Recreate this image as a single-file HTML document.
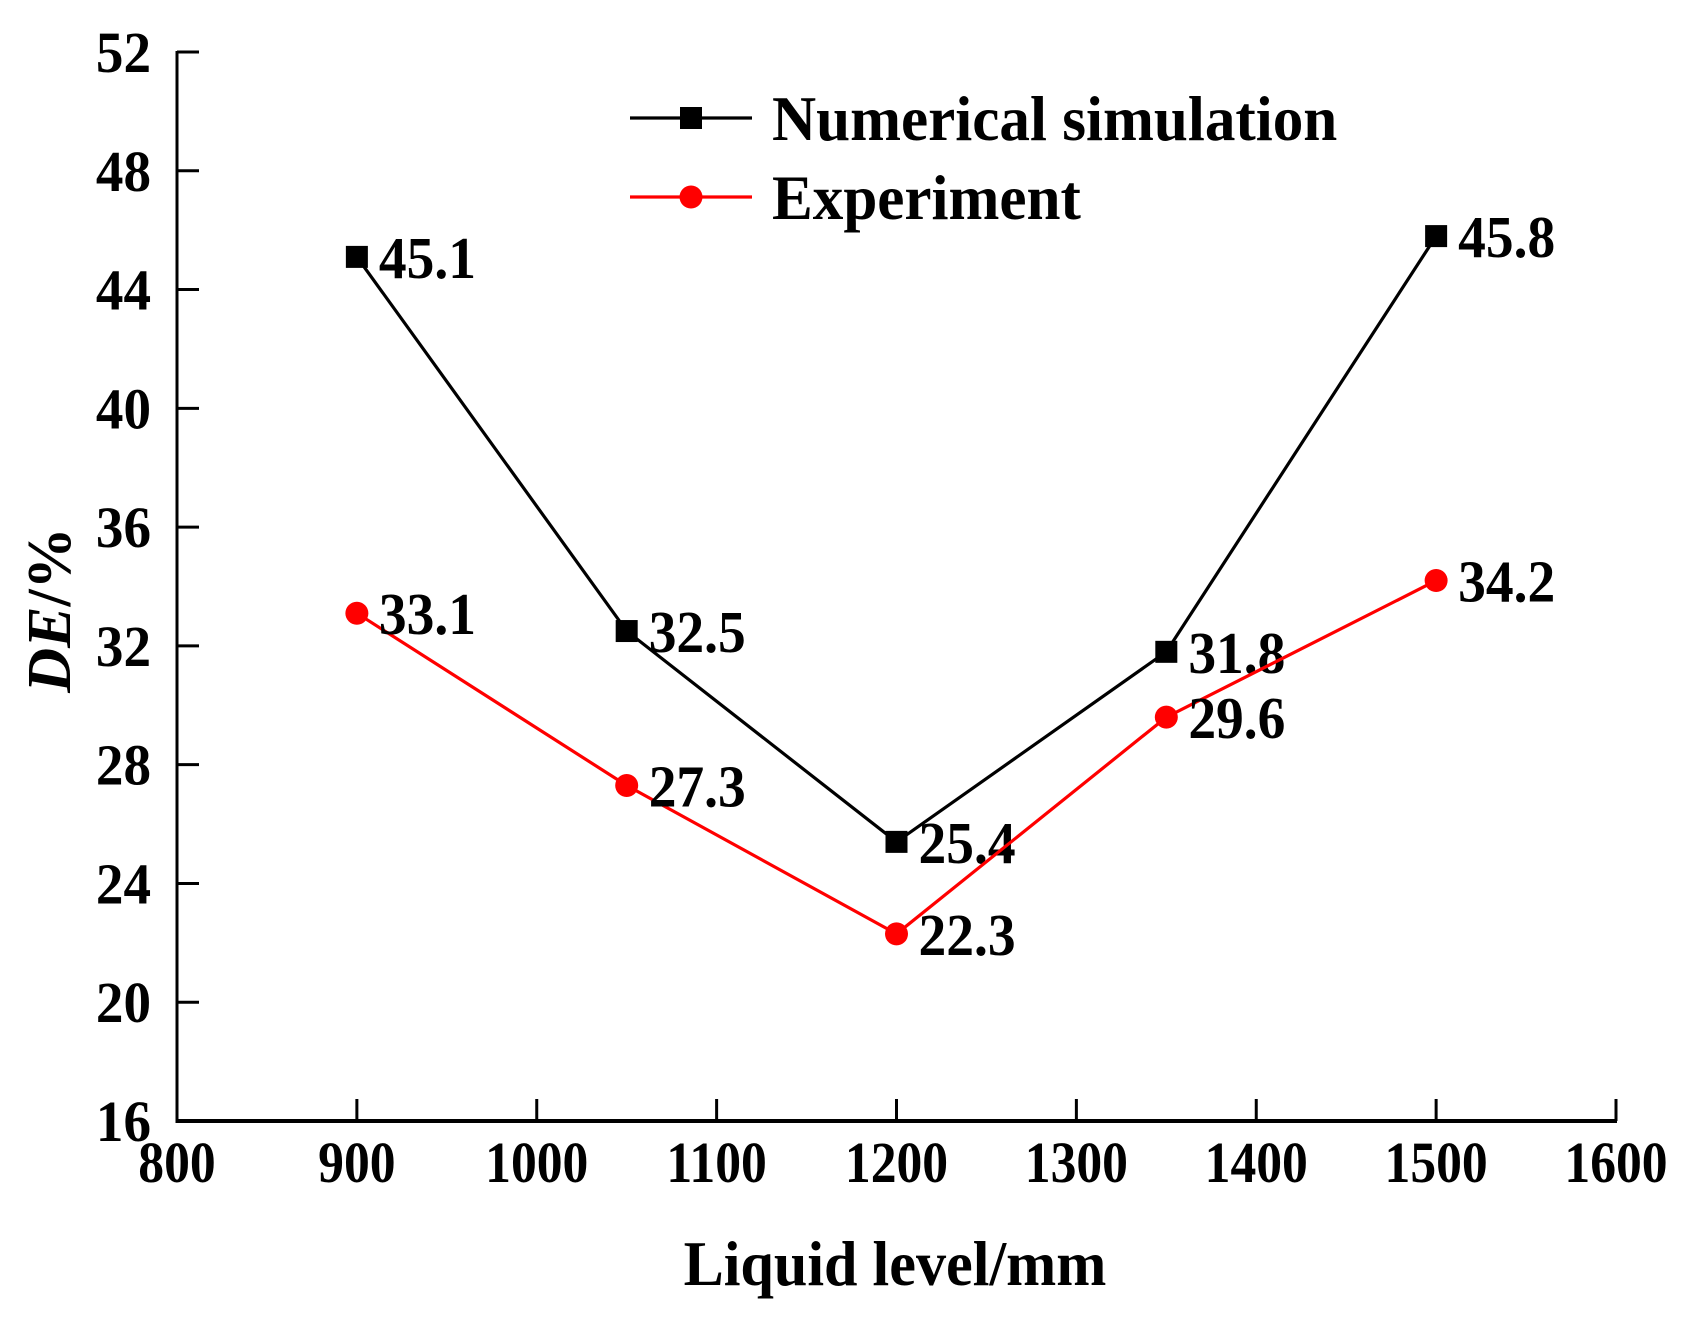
<!DOCTYPE html>
<html><head><meta charset="utf-8"><style>
html,body{margin:0;padding:0;background:#fff;}
svg{display:block;}
text{font-family:"Liberation Serif",serif;font-weight:bold;fill:#000;}
</style></head><body>
<svg id="chart" width="1684" height="1320" viewBox="0 0 1684 1320" xmlns="http://www.w3.org/2000/svg"></svg>
<script>
const categories = [900, 1050, 1200, 1350, 1500];
const simValues = [45.1, 32.5, 25.4, 31.8, 45.8];
const expValues = [33.1, 27.3, 22.3, 29.6, 34.2];
const xTicks = [800, 900, 1000, 1100, 1200, 1300, 1400, 1500, 1600];
const yTicks = [16, 20, 24, 28, 32, 36, 40, 44, 48, 52];

const NS = "http://www.w3.org/2000/svg";
const svg = document.getElementById('chart');
const X0 = 177, X1 = 1616, Y0 = 1121, Y1 = 52;
const xScale = v => X0 + (v - 800) / 800 * (X1 - X0);
const yScale = v => Y0 - (v - 16) / 36 * (Y0 - Y1);

function mk(tag, attrs, parent) {
  const e = document.createElementNS(NS, tag);
  for (const k in attrs) e.setAttribute(k, attrs[k]);
  (parent || svg).appendChild(e);
  return e;
}
function txt(s, attrs, parent, sq) {
  const t = mk('text', attrs, parent);
  t.textContent = s;
  const w = t.getComputedTextLength();
  t.setAttribute('textLength', (w * (sq || 0.92)).toFixed(1));
  t.setAttribute('lengthAdjust', 'spacingAndGlyphs');
  return t;
}

// axes
const ax = mk('line', {x1: X0, y1: Y1 - 1, x2: X0, y2: Y0 + 2, stroke: '#000', 'stroke-width': 3});


const bx = mk('line', {x1: X0 - 1, y1: Y0, x2: X1 + 1, y2: Y0, stroke: '#000', 'stroke-width': 4});



yTicks.forEach(v => {
  const y = yScale(v);
  const tk = mk('line', {x1: X0, y1: y, x2: X0 + 22, y2: y, stroke: '#000', 'stroke-width': 3});
  
  
  const t = txt(String(v), {x: 151, y: y + 20, 'font-size': 58, 'text-anchor': 'end'}, null, 0.95);
  
  
});
xTicks.forEach(v => {
  const x = xScale(v);
  const tk = mk('line', {x1: x, y1: Y0, x2: x, y2: Y0 - 22, stroke: '#000', 'stroke-width': 3});
  
  
  const t = txt(String(v), {x: x, y: 1182, 'font-size': 58, 'text-anchor': 'middle'}, null, 0.89);
  
  
});

// titles
const xt = txt('Liquid level/mm', {x: 895, y: 1285, 'font-size': 64, 'text-anchor': 'middle'}, null, 0.94);


const yt = mk('text', {x: 0, y: 0, 'font-size': 62, 'text-anchor': 'middle', transform: 'translate(70,610) rotate(-90)'});


yt.innerHTML = '<tspan font-style="italic">DE</tspan>/%';

// series
function series(vals, color, marker, name) {
  const g = mk('g', {});
  
  
  const pts = categories.map((c, i) => xScale(c).toFixed(1) + ',' + yScale(vals[i]).toFixed(1)).join(' ');
  const pl = mk('polyline', {points: pts, fill: 'none', stroke: color, 'stroke-width': 3.2}, g);
  
  
  categories.forEach((c, i) => {
    const x = xScale(c), y = yScale(vals[i]);
    let m;
    if (marker === 'square') m = mk('rect', {x: x - 11, y: y - 11, width: 22, height: 22, fill: color}, g);
    else m = mk('circle', {cx: x, cy: y, r: 11.5, fill: color}, g);
    
    
    const t = txt(vals[i].toFixed(1), {x: x + 22, y: y + 21, 'font-size': 59}, g, 0.94);
    
    
  });
}
series(simValues, '#000', 'square', 'numerical-simulation');
series(expValues, '#f00', 'circle', 'experiment');

// legend
const lg = mk('g', {});


[['Numerical simulation', '#000', 'square', 118], ['Experiment', '#f00', 'circle', 197]].forEach(d => {
  const e = mk('g', {}, lg);
  
  
  mk('line', {x1: 630, y1: d[3], x2: 752, y2: d[3], stroke: d[1], 'stroke-width': 3.2}, e);
  if (d[2] === 'square') mk('rect', {x: 680, y: d[3] - 11, width: 22, height: 22, fill: d[1]}, e);
  else mk('circle', {cx: 691, cy: d[3], r: 11.5, fill: d[1]}, e);
  const t = mk('text', {x: 772, y: d[3] + 22, 'font-size': 63}, e);
  t.textContent = d[0];
  const w = t.getComputedTextLength();
  t.setAttribute('textLength', (w * 0.97).toFixed(1));
  t.setAttribute('lengthAdjust', 'spacingAndGlyphs');
});
</script>
</body></html>
